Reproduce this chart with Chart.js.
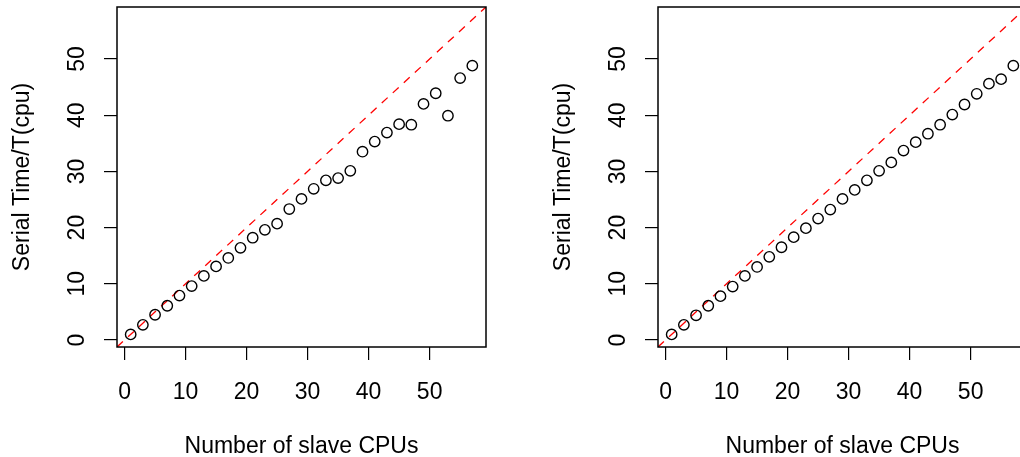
<!DOCTYPE html>
<html>
<head>
<meta charset="utf-8">
<script src="https://cdn.jsdelivr.net/npm/chart.js@4"></script>
<style>
  body { margin: 0; background: #fff; overflow: hidden; }
  #wrap { position: relative; width: 1020px; height: 457px; overflow: hidden; }
  canvas { position: absolute; top: 0; }
  #left { left: 0; }
  #right { left: 541px; }
</style>
</head>
<body>
<div id="wrap">
  <canvas id="left" width="541" height="457"></canvas>
  <canvas id="right" width="541" height="457"></canvas>
</div>
<script>
/* =================================================
  Data
==================================================== */

const cpus = [1, 3, 5, 7, 9, 11, 13, 15, 17, 19, 21, 23, 25, 27, 29, 31, 33, 35, 37, 39, 41, 43, 45, 47, 49, 51, 53, 55, 57];

const speedupLeft = [1.0, 2.7, 4.5, 6.1, 7.9, 9.6, 11.4, 13.1, 14.6, 16.4, 18.2, 19.6, 20.7, 23.3, 25.1,
  26.9, 28.4, 28.8, 30.1, 33.5, 35.3, 36.9, 38.4, 38.3, 42.0, 43.9, 39.9, 46.6, 48.8];

const speedupRight = [1.0, 2.7, 4.4, 6.1, 7.8, 9.5, 11.4, 13.0, 14.8, 16.5, 18.3, 19.9, 21.6, 23.2, 25.1,
  26.7, 28.4, 30.1, 31.6, 33.7, 35.2, 36.7, 38.3, 40.1, 41.9, 43.8, 45.6, 46.4, 48.8];

const xTicks = [0, 10, 20, 30, 40, 50];
const yTicks = [0, 10, 20, 30, 40, 50];

// axis limits (data range 1..57 plus 4%)
const axisMin = -1.24;
const axisMax = 59.24;

const xTitle = 'Number of slave CPUs';
const yTitle = 'Serial Time/T(cpu)';

/* =================================================
  Shared options
==================================================== */

const font = { family: '"Liberation Sans", Arial, sans-serif', size: 23 };

const boxPlugin = {
  id: 'box',
  afterDraw(chart) {
    const { ctx, chartArea: a } = chart;
    ctx.save();
    ctx.strokeStyle = '#000';
    ctx.lineWidth = 1.5;
    ctx.strokeRect(a.left, a.top, a.right - a.left, a.bottom - a.top);
    ctx.restore();
  }
};

function makeChart(canvas, values) {
  const points = cpus.map((c, i) => ({ x: c, y: values[i] }));
  const identity = [{ x: axisMin, y: axisMin }, { x: axisMax, y: axisMax }];

  return new Chart(canvas, {
    type: 'scatter',
    data: {
      datasets: [{
        data: points,
        pointStyle: 'circle',
        pointRadius: 5.2,
        pointBorderWidth: 1.4,
        pointBorderColor: '#000',
        pointBackgroundColor: 'rgba(0,0,0,0)',
        showLine: false
      }, {
        type: 'line',
        data: identity,
        borderColor: '#ff0000',
        borderWidth: 1.3,
        borderDash: [8, 7],
        pointRadius: 0,
        fill: false
      }]
    },
    options: {
      responsive: false,
      animation: false,
      devicePixelRatio: 1,
      layout: { padding: { top: 7, right: 55, left: 0, bottom: 0 } },
      plugins: {
        legend: { display: false },
        tooltip: { enabled: false }
      },
      scales: {
        x: {
          type: 'linear',
          min: axisMin,
          max: axisMax,
          afterBuildTicks: s => { s.ticks = xTicks.map(v => ({ value: v })); },
          afterFit: s => { s.height = 110; s.paddingLeft = 0; s.paddingRight = 0; },
          border: { display: false },
          grid: { drawOnChartArea: false, drawTicks: true, tickLength: 13, tickColor: '#000', lineWidth: 1.2 },
          ticks: { font: font, color: '#000', padding: 19, maxRotation: 0, autoSkip: false },
          title: { display: true, text: xTitle, font: font, color: '#000', padding: { top: 0, bottom: -3 } }
        },
        y: {
          type: 'linear',
          min: axisMin,
          max: axisMax,
          afterBuildTicks: s => { s.ticks = yTicks.map(v => ({ value: v })); },
          afterFit: s => { s.width = 117; s.paddingTop = 0; s.paddingBottom = 0; },
          border: { display: false },
          grid: { drawOnChartArea: false, drawTicks: true, tickLength: 13, tickColor: '#000', lineWidth: 1.2 },
          ticks: { font: font, color: '#000', padding: 14, minRotation: 90, maxRotation: 90, crossAlign: 'center', autoSkip: false },
          title: { display: true, text: yTitle, font: font, color: '#000', padding: { top: 9, bottom: 0 } }
        }
      }
    },
    plugins: [boxPlugin]
  });
}

/* =================================================
  Panels
==================================================== */

const leftChart = makeChart(document.getElementById('left'), speedupLeft);
const rightChart = makeChart(document.getElementById('right'), speedupRight);
</script>
</body>
</html>
